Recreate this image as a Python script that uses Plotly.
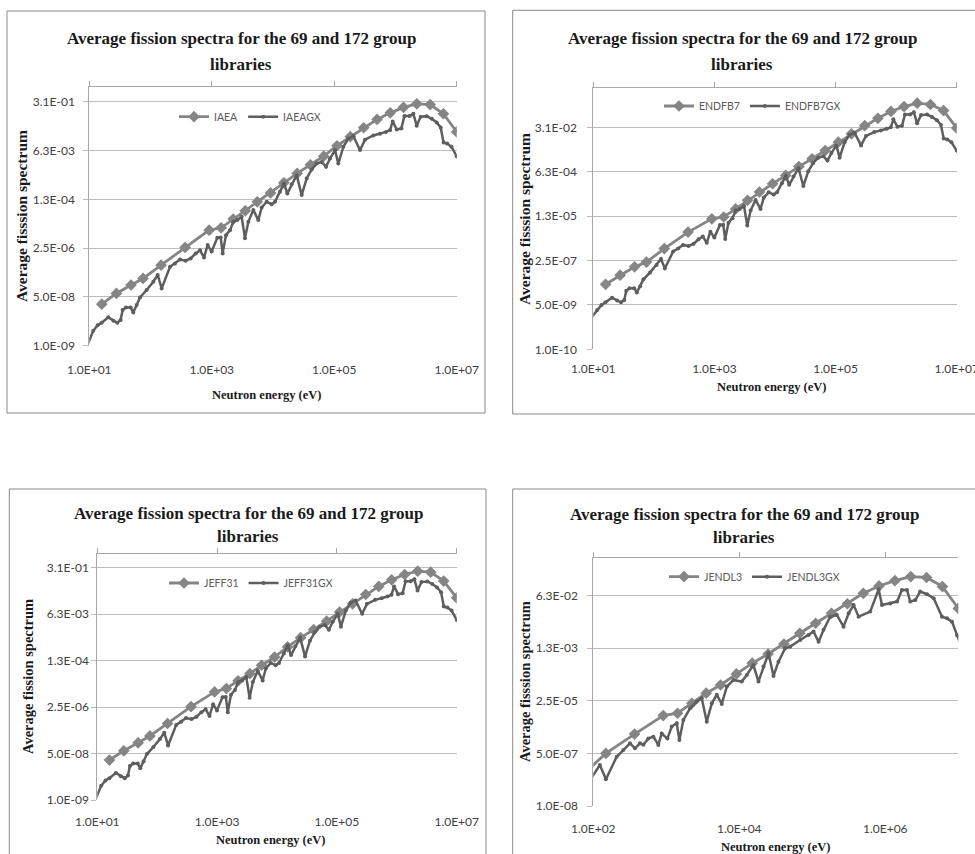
import plotly.graph_objects as go

W, H = 975, 854

# ---------------- data ----------------
# 69-group (WIMS) boundary energies, eV
E_69 = [15.968, 27.7, 48.052, 75.5014, 148.728, 367.262, 906.898, 1425.1, 2239.45,
        3519.1, 5530.0, 9118.0, 15030.0, 24790.0, 40870.0, 67340.0, 111000.0,
        183000.0, 302500.0, 500000.0, 821000.0, 1353000.0, 2231000.0, 3679000.0,
        6065500.0, 10000000.0]

IAEA = [2.8e-8, 6.6e-8, 1.3e-7, 2.2e-7, 6.4e-7, 2.65e-6, 1.06e-5, 1.28e-5, 2.57e-5,
        5.0e-5, 1.03e-4, 2.1e-4, 4.7e-4, 1.0e-3, 2.0e-3, 4.0e-3, 9.2e-3, 1.9e-2,
        3.9e-2, 7.6e-2, 0.129, 0.20, 0.266, 0.25, 0.12, 0.028]
ENDFB7 = [3.1e-8, 6.9e-8, 1.44e-7, 2.2e-7, 7.2e-7, 3.1e-6, 1.0e-5, 1.17e-5, 2.4e-5,
          5.1e-5, 1.06e-4, 2.2e-4, 4.6e-4, 1.0e-3, 2.0e-3, 4.1e-3, 8.6e-3, 1.8e-2,
          3.7e-2, 7.1e-2, 0.13, 0.20, 0.27, 0.24, 0.14, 0.030]
JEFF31 = [2.9e-8, 6.3e-8, 1.24e-7, 2.2e-7, 6.3e-7, 2.6e-6, 9.0e-6, 1.2e-5, 2.3e-5,
          4.2e-5, 8.5e-5, 1.7e-4, 4.0e-4, 8.7e-4, 1.7e-3, 3.5e-3, 7.5e-3, 1.5e-2,
          3.3e-2, 6.5e-2, 0.114, 0.178, 0.236, 0.217, 0.102, 0.025]
E_JENDL3 = [75.5014, 148.728, 367.262, 906.898, 1425.1, 2239.45, 3519.1, 5530.0,
            9118.0, 15030.0, 24790.0, 40870.0, 67340.0, 111000.0, 183000.0,
            302500.0, 500000.0, 821000.0, 1353000.0, 2231000.0, 3679000.0,
            6065500.0, 10000000.0]
JENDL3 = [1.15e-7, 5.0e-7, 2.1e-6, 8.3e-6, 9.9e-6, 2.07e-5, 4.4e-5, 8.1e-5, 1.84e-4,
          4.1e-4, 8.1e-4, 1.7e-3, 3.8e-3, 8.0e-3, 1.68e-2, 3.4e-2, 7.4e-2, 0.128,
          0.19, 0.257, 0.24, 0.122, 0.024]

# 172-group energies, eV (as read for the IAEA / ENDFB7 / JEFF31 panels)
E_172 = [8.3, 11.6, 13.7, 15.9, 20.4, 24.7, 28.7, 32.5, 35.0, 39.7, 47.3, 52.3, 59.3,
         67.3, 86.4, 111, 131, 152, 208, 251, 303, 374, 452, 546, 643, 747, 857, 996,
         1233, 1397, 1506, 1706, 1986, 2250, 2614, 3076, 3488, 3955, 4775, 5757, 6530,
         7880, 9510, 10790, 13000, 15130, 17150, 20180, 24370, 29400, 35480, 42820,
         51660, 62340, 73430, 85340, 1.03e5, 1.167e5, 1.409e5, 1.70e5, 2.05e5, 2.637e5,
         3.18e5, 4.35e5, 5.6e5, 7.0e5, 8.15e5, 9.0e5, 1.05e6, 1.25e6, 1.4e6, 1.7e6,
         1.96e6, 2.22e6, 2.58e6, 3.24e6, 3.91e6, 4.71e6, 5.48e6, 6.1e6, 7.0e6, 8.2e6,
         1.0e7, 1.2e7]

IAEAGX = [5.8e-10, 3.3e-9, 5.2e-9, 6.3e-9, 9.7e-9, 7.4e-9, 6.3e-9, 7.8e-9, 1.75e-8,
          2.16e-8, 2.16e-8, 1.44e-8, 2.6e-8, 4.8e-8, 8.7e-8, 1.69e-7, 2.9e-7, 9.9e-8,
          5.6e-7, 7.3e-7, 1.0e-6, 9.1e-7, 1.1e-6, 1.64e-6, 2.1e-6, 1.19e-6, 3.2e-6,
          1.9e-6, 5.8e-6, 5.9e-6, 1.64e-6, 7.1e-6, 1.06e-5, 2.07e-5, 2.37e-5, 3.1e-5,
          5.5e-6, 2.07e-5, 5.3e-5, 2.37e-5, 6.5e-5, 1.03e-4, 8.5e-5, 1.03e-4, 2.3e-4,
          4.5e-4, 2.0e-4, 4.2e-4, 8.7e-4, 1.76e-4, 6.7e-4, 1.38e-3, 2.2e-3, 2.5e-3,
          1.7e-3, 3.3e-3, 6.5e-3, 2.2e-3, 8.5e-3, 1.65e-2, 2.0e-2, 6.5e-3, 1.5e-2,
          2.1e-2, 2.4e-2, 2.8e-2, 3.2e-2, 6.5e-2, 3.4e-2, 3.7e-2, 0.10, 0.10, 0.12,
          0.046, 0.094, 0.099, 0.080, 0.060, 0.040, 0.012, 0.011, 0.0085, 0.004, 0.002]
ENDFB7GX = [1.2e-9, 3.2e-9, 5.0e-9, 6.3e-9, 9.5e-9, 7.4e-9, 6.3e-9, 7.8e-9, 1.75e-8,
            2.2e-8, 2.2e-8, 1.5e-8, 2.6e-8, 4.8e-8, 8.7e-8, 1.7e-7, 2.9e-7, 1.24e-7,
            5.6e-7, 7.3e-7, 1.0e-6, 9.1e-7, 1.1e-6, 1.64e-6, 2.1e-6, 1.2e-6, 3.2e-6,
            1.9e-6, 5.8e-6, 5.9e-6, 1.7e-6, 7.1e-6, 1.06e-5, 2.07e-5, 2.37e-5, 3.1e-5,
            5.5e-6, 2.07e-5, 5.3e-5, 2.37e-5, 6.5e-5, 1.03e-4, 8.5e-5, 1.03e-4, 2.3e-4,
            4.5e-4, 2.0e-4, 4.2e-4, 8.7e-4, 1.8e-4, 6.7e-4, 1.38e-3, 2.2e-3, 2.5e-3,
            1.7e-3, 3.3e-3, 6.5e-3, 2.2e-3, 8.5e-3, 1.65e-2, 2.0e-2, 6.5e-3, 1.5e-2,
            2.1e-2, 2.4e-2, 2.8e-2, 3.2e-2, 6.5e-2, 3.4e-2, 3.7e-2, 0.10, 0.10, 0.12,
            0.046, 0.094, 0.099, 0.080, 0.060, 0.040, 0.012, 0.011, 0.0085, 0.0041, 0.002]
JEFF31GX = [5.8e-10, 3.3e-9, 5.2e-9, 6.3e-9, 9.7e-9, 7.4e-9, 6.3e-9, 7.8e-9, 1.75e-8,
            2.16e-8, 2.16e-8, 1.44e-8, 2.6e-8, 4.8e-8, 8.7e-8, 1.69e-7, 2.9e-7, 9.9e-8,
            5.6e-7, 7.3e-7, 1.0e-6, 9.1e-7, 1.1e-6, 1.64e-6, 2.1e-6, 1.19e-6, 3.2e-6,
            1.9e-6, 5.8e-6, 5.9e-6, 1.64e-6, 7.1e-6, 1.06e-5, 2.07e-5, 2.37e-5, 3.1e-5,
            5.5e-6, 2.07e-5, 5.3e-5, 2.37e-5, 6.5e-5, 1.03e-4, 8.5e-5, 1.03e-4, 2.3e-4,
            4.5e-4, 2.0e-4, 4.2e-4, 8.7e-4, 1.76e-4, 6.7e-4, 1.38e-3, 2.2e-3, 2.5e-3,
            1.7e-3, 3.3e-3, 6.5e-3, 2.2e-3, 8.5e-3, 1.65e-2, 2.0e-2, 6.5e-3, 1.5e-2,
            2.1e-2, 2.4e-2, 2.8e-2, 3.2e-2, 6.5e-2, 3.4e-2, 3.7e-2, 0.10, 0.10, 0.12,
            0.046, 0.094, 0.099, 0.080, 0.060, 0.040, 0.012, 0.011, 0.0085, 0.0039, 0.002]

E_JENDL3GX = [86, 123, 149, 209, 258, 318, 373, 436, 485, 567, 665, 778, 865, 1035,
              1187, 1389, 1511, 1714, 2117, 2612, 3060, 3580, 4200, 4910, 5750, 6740,
              8320, 10800, 12670, 15600, 18300, 21400, 25100, 29400, 34400, 42500,
              49800, 68300, 88900, 1.04e5, 1.22e5, 1.426e5, 1.76e5, 2.17e5, 2.68e5,
              3.15e5, 3.68e5, 4.31e5, 6.22e5, 8.11e5, 9.0e5, 1.17e6, 1.45e6, 1.69e6,
              1.98e6, 2.2e6, 2.58e6, 3.0e6, 3.73e6, 4.6e6, 5.98e6, 7.0e6, 8.2e6,
              9.6e6, 1.1e7]
JENDL3GX = [5.8e-8, 2.1e-7, 7.3e-8, 3.9e-7, 6.4e-7, 1.06e-6, 7.3e-7, 1.06e-6, 9.5e-7,
            1.5e-6, 1.74e-6, 9.4e-7, 2.2e-6, 1.5e-6, 3.7e-6, 4.7e-6, 1.35e-6, 6.0e-6,
            1.43e-5, 2.35e-5, 3.0e-5, 5.3e-6, 2.07e-5, 3.9e-5, 1.98e-5, 7.2e-5, 1.18e-4,
            1.04e-4, 1.71e-4, 3.6e-4, 1.04e-4, 3.2e-4, 8.6e-4, 1.58e-4, 4.6e-4, 1.24e-3,
            1.4e-3, 2.3e-3, 3.35e-3, 4.3e-3, 2.0e-3, 4.9e-3, 1.3e-2, 1.48e-2, 6.2e-3,
            1.68e-2, 3.1e-2, 1.3e-2, 1.9e-2, 0.10, 3.1e-2, 3.5e-2, 4.0e-2, 9.5e-2,
            9.5e-2, 4.0e-2, 4.5e-2, 8.4e-2, 6.9e-2, 5.1e-2, 1.3e-2, 1.15e-2, 9.0e-3,
            3.3e-3, 1.5e-3]

# tick labels
X_TICKS_A = [1e1, 1e3, 1e5, 1e7]
X_TEXT_A = ["1.0E+01", "1.0E+03", "1.0E+05", "1.0E+07"]
X_TICKS_B = [1e2, 1e4, 1e6]
X_TEXT_B = ["1.0E+02", "1.0E+04", "1.0E+06"]
Y_TICKS_9 = [1e-9, 5e-8, 2.5e-6, 1.25e-4, 6.25e-3, 3.125e-1]
Y_TEXT_9 = ["1.0E-09", "5.0E-08", "2.5E-06", "1.3E-04", "6.3E-03", "3.1E-01"]
Y_TICKS_10 = [1e-10, 5e-9, 2.5e-7, 1.25e-5, 6.25e-4, 3.125e-2]
Y_TEXT_10 = ["1.0E-10", "5.0E-09", "2.5E-07", "1.3E-05", "6.3E-04", "3.1E-02"]
Y_TICKS_8 = [1e-8, 5e-7, 2.5e-5, 1.25e-3, 6.25e-2]
Y_TEXT_8 = ["1.0E-08", "5.0E-07", "2.5E-05", "1.3E-03", "6.3E-02"]

TITLE_1 = "Average fission spectra for the 69 and 172 group"
TITLE_2 = "libraries"
X_TITLE = "Neutron energy (eV)"

# ---------------- styling / layout ----------------
C69 = "#858585"
CGX = "#5e5e5e"
GRID = "#bdbdbd"
AXL = "#a8a8a8"
BORDER = "#8a8a8a"
SANS = "Lato, Open Sans, sans-serif"
SERIF = "Liberation Serif, Times New Roman, serif"


def fx(p):
    return p / W


def fy(p):
    return 1 - p / H


panels = [
    dict(n69="IAEA", e69=E_69, v69=IAEA, ngx="IAEAGX", egx=E_172, vgx=IAEAGX,
         plot=(89.3, 456.7, 87.3, 345.7), xr=[1, 7], xt=(X_TICKS_A, X_TEXT_A),
         yr=[-9, 0], yt=(Y_TICKS_9, Y_TEXT_9), ystand=6, xstand=15,
         border=(7, 11, 485, 413), t1=(241, 38), t2=(241, 65),
         ytitle="Average fisssion spectrum", ytpos=(21, 216), ytsize=15.5,
         xtpos=(266, 395), leg=(174, 116.7)),
    dict(n69="ENDFB7", e69=E_69, v69=ENDFB7, ngx="ENDFB7GX", egx=E_172, vgx=ENDFB7GX,
         plot=(593.3, 956.7, 88.3, 349.3), xr=[1, 7], xt=(X_TICKS_A, X_TEXT_A),
         yr=[-10, 0], yt=(Y_TICKS_10, Y_TEXT_10), ystand=8, xstand=11,
         border=(512.7, 10.3, 977, 414), t1=(742, 38), t2=(742, 65),
         ytitle="Average fisssion spectrum", ytpos=(525, 219), ytsize=15.5,
         xtpos=(771, 387), leg=(659, 106)),
    dict(n69="JEFF31", e69=E_69, v69=JEFF31, ngx="JEFF31GX", egx=E_172, vgx=JEFF31GX,
         plot=(97.3, 456.7, 554, 800), xr=[1, 7], xt=(X_TICKS_A, X_TEXT_A),
         yr=[-9, 0], yt=(Y_TICKS_9, Y_TEXT_9), ystand=0, xstand=13,
         border=(9.3, 489, 486, 858), t1=(248, 513), t2=(248, 536),
         ytitle="Average fission spectrum", ytpos=(28, 677), ytsize=14.5,
         xtpos=(270, 840), leg=(164, 583)),
    dict(n69="JENDL3", e69=E_JENDL3, v69=JENDL3, ngx="JENDL3GX", egx=E_JENDL3GX,
         vgx=JENDL3GX, plot=(593.3, 958.3, 558.3, 806), xr=[2, 7],
         xt=(X_TICKS_B, X_TEXT_B), yr=[-8, 0], yt=(Y_TICKS_8, Y_TEXT_8), ystand=7,
         xstand=14, border=(512.7, 489, 977, 858), t1=(744, 514), t2=(744, 537),
         ytitle="Average fisssion spectrum", ytpos=(525, 682), ytsize=14.5,
         xtpos=(775, 847), leg=(664, 576.7)),
]

fig = go.Figure()
layout = dict(width=W, height=H,
              margin=dict(l=0, r=0, t=0, b=0, pad=0, autoexpand=False),
              paper_bgcolor="white", plot_bgcolor="white", showlegend=True)
annotations = []
shapes = []

for i, p in enumerate(panels, 1):
    sfx = "" if i == 1 else str(i)
    xa, ya = "x" + sfx, "y" + sfx
    legname = "legend" + sfx
    fig.add_trace(go.Scatter(
        x=p["e69"], y=p["v69"], name=p["n69"], mode="lines+markers",
        xaxis=xa, yaxis=ya, legend=legname,
        line=dict(color=C69, width=2.8),
        marker=dict(symbol="diamond", size=9, color=C69)))
    fig.add_trace(go.Scatter(
        x=p["egx"], y=p["vgx"], name=p["ngx"], mode="lines+markers",
        xaxis=xa, yaxis=ya, legend=legname,
        line=dict(color=CGX, width=2.5),
        marker=dict(symbol="circle", size=4, color=CGX)))
    # empty trace to register the top (mirror) x axis
    fig.add_trace(go.Scatter(x=[], y=[], xaxis="x" + str(i + 4), yaxis=ya,
                             showlegend=False, hoverinfo="skip"))

    l, r, t, b = p["plot"]
    layout["xaxis" + sfx] = dict(
        domain=[fx(l), fx(r)], anchor=ya, type="log", range=p["xr"],
        tickmode="array", tickvals=p["xt"][0], ticktext=p["xt"][1],
        showgrid=False, showline=False, ticks="", zeroline=False,
        automargin=False, ticklabelstandoff=p["xstand"], ticklabeloverflow="allow",
        tickfont=dict(family=SANS, size=12, color="#404040"))
    layout["xaxis" + str(i + 4)] = dict(
        overlaying=xa, anchor=ya, side="top", type="log", range=p["xr"],
        tickmode="array", tickvals=p["xt"][0], showticklabels=False,
        showline=True, linecolor=AXL, linewidth=1, ticks="outside", ticklen=5,
        tickcolor=AXL, showgrid=False, zeroline=False, automargin=False)
    layout["yaxis" + sfx] = dict(
        domain=[fy(b), fy(t)], anchor=xa, type="log", range=p["yr"],
        tickmode="array", tickvals=p["yt"][0], ticktext=p["yt"][1],
        showgrid=True, gridcolor=GRID, gridwidth=1,
        showline=True, linecolor=AXL, linewidth=1,
        ticks="outside", ticklen=5, tickcolor=GRID, zeroline=False,
        automargin=False, ticklabelstandoff=p["ystand"],
        tickfont=dict(family=SANS, size=12, color="#404040"))
    layout[legname] = dict(
        x=fx(p["leg"][0]), y=fy(p["leg"][1]), xanchor="left", yanchor="middle",
        orientation="h", bgcolor="rgba(0,0,0,0)", borderwidth=0,
        font=dict(family=SANS, size=10.5, color="#5a5a5a"), itemwidth=30,
        tracegroupgap=0)

    bx0, by0, bx1, by1 = p["border"]
    shapes.append(dict(type="rect", xref="paper", yref="paper",
                       x0=fx(bx0), x1=fx(bx1), y0=fy(by1), y1=fy(by0),
                       line=dict(color=BORDER, width=1), layer="below"))

    annotations.append(dict(text="<b>" + TITLE_1 + "</b>", x=fx(p["t1"][0]),
                            y=fy(p["t1"][1]), xref="paper", yref="paper",
                            showarrow=False, xanchor="center", yanchor="middle",
                            font=dict(family=SERIF, size=17, color="#1a1a1a")))
    annotations.append(dict(text="<b>" + TITLE_2 + "</b>", x=fx(p["t2"][0]),
                            y=fy(p["t2"][1]), xref="paper", yref="paper",
                            showarrow=False, xanchor="center", yanchor="middle",
                            font=dict(family=SERIF, size=17, color="#1a1a1a")))
    annotations.append(dict(text="<b>" + p["ytitle"] + "</b>", x=fx(p["ytpos"][0]),
                            y=fy(p["ytpos"][1]), xref="paper", yref="paper",
                            showarrow=False, textangle=-90, xanchor="center",
                            yanchor="middle",
                            font=dict(family=SERIF, size=p["ytsize"], color="#1a1a1a")))
    annotations.append(dict(text="<b>" + X_TITLE + "</b>", x=fx(p["xtpos"][0]),
                            y=fy(p["xtpos"][1]), xref="paper", yref="paper",
                            showarrow=False, xanchor="center", yanchor="middle",
                            font=dict(family=SERIF, size=12.5, color="#1a1a1a")))

layout["annotations"] = annotations
layout["shapes"] = shapes
fig.update_layout(**layout)
fig.write_html("out.html")
